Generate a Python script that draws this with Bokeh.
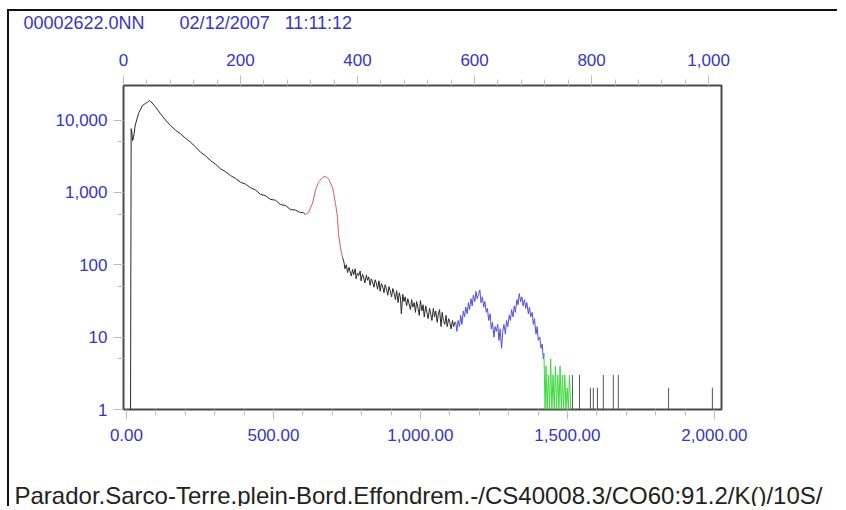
from bokeh.plotting import figure
from bokeh.models import (Range1d, LinearAxis, FixedTicker, NumeralTickFormatter, Title)
from bokeh.embed import file_html
from bokeh.resources import INLINE

# ---------------- data (energy keV, counts) ----------------
black_low_e = [14, 16, 18, 21, 24, 30, 41, 54, 65, 71, 78, 82, 100, 116, 133, 150, 167, 184,
               201, 218, 235, 252, 269, 286, 303, 320, 337, 354, 371, 388, 405, 422, 439,
               456, 473, 490, 507, 524, 541, 558, 575, 592, 600, 609]
black_low_c = [1, 7600, 7000, 5200, 5700, 8500, 12300, 15800, 17000, 17500, 18600, 18200, 15000,
               12200, 10000, 8400, 7200, 6450, 5600, 4930, 4250, 3590, 3200, 2760, 2450, 2120,
               1930, 1710, 1560, 1380, 1300, 1160, 1080, 940, 900, 800, 780, 680, 660, 580,
               570, 525, 530, 495]

red_e = [609, 619, 633, 643, 653, 667, 677, 687, 701, 711, 718, 721, 728, 735]
red_c = [495, 527, 705, 1070, 1370, 1620, 1660, 1550, 1170, 705, 450, 270, 173, 126]

black_mid_e = [735, 740, 743, 748, 752, 757, 760, 765, 769, 773, 778, 781, 786, 790, 795, 798,
               803, 807, 811, 816, 820, 824, 829, 833, 837, 842, 846, 851, 854, 859, 863, 867,
               872, 876, 880, 885, 889, 893, 898, 902, 906, 911, 915, 919, 924, 928, 932, 935,
               940, 944, 948, 953, 957, 961, 966, 970, 974, 979, 983, 987, 992, 996, 1000, 1005,
               1009, 1013, 1018, 1022, 1026, 1031, 1035, 1039, 1044, 1048, 1052, 1057, 1061,
               1065, 1070, 1074, 1078, 1083, 1087, 1091, 1096, 1100, 1104, 1109, 1113, 1117, 1120]
black_mid_c = [126, 108, 88, 100, 78, 92, 82, 70, 86, 73, 88, 64, 77, 71, 82, 60, 74, 66, 56,
               72, 61, 68, 52, 64, 58, 49, 62, 54, 46, 60, 43, 55, 49, 41, 53, 45, 38, 50, 42,
               36, 47, 40, 33, 44, 30, 41, 35, 21, 39, 31, 36, 27, 34, 29, 24, 33, 26, 30, 22,
               31, 25, 20, 32, 23, 28, 19, 27, 22, 18, 25, 21, 17, 25, 19, 23, 16, 21, 24, 14,
               22, 17, 15, 20, 14, 18, 16, 13, 17, 14, 16, 16]

blue_e = [1120, 1124, 1128, 1133, 1137, 1141, 1146, 1150, 1154, 1159, 1163, 1167, 1172, 1176,
          1180, 1185, 1189, 1193, 1198, 1202, 1206, 1211, 1215, 1219, 1224, 1228, 1232, 1237,
          1241, 1245, 1250, 1254, 1258, 1263, 1267, 1271, 1276, 1280, 1284, 1289, 1293, 1297,
          1302, 1306, 1310, 1315, 1319, 1323, 1328, 1332, 1336, 1341, 1345, 1349, 1354, 1358,
          1362, 1367, 1371, 1375, 1380, 1384, 1388, 1393, 1397, 1401, 1406, 1410, 1414, 1418,
          1420]
blue_c = [16, 12, 17, 14, 20, 15, 23, 19, 26, 21, 30, 24, 34, 27, 38, 31, 43, 34, 39, 45, 30,
          36, 26, 31, 22, 25, 17, 21, 13, 16, 10, 14, 12, 15, 9, 13, 7, 12, 15, 11, 17, 14,
          20, 17, 24, 19, 27, 22, 33, 28, 40, 31, 36, 27, 33, 25, 30, 21, 26, 19, 22, 15, 18,
          11, 14, 9, 10, 7, 8, 5, 6]

green_e = [1420, 1424, 1427, 1431, 1435, 1439, 1443, 1447, 1451, 1455, 1459, 1463, 1467, 1471,
           1475, 1479, 1483, 1487, 1491, 1495, 1499, 1503, 1507, 1511]
green_c = [6, 1, 4, 1, 3, 1, 5, 1, 3, 1, 4, 1, 3, 1, 4, 1, 3, 1, 3, 1, 2, 1, 3, 1]

tail_e = [1517, 1541, 1578, 1588, 1602, 1622, 1656, 1673, 1844, 1993]
tail_c = [3, 3, 2, 2, 2, 3, 3, 3, 2, 2]

bottom_ticks = [0, 500, 1000, 1500, 2000]
bottom_minor = [100, 200, 300, 400, 600, 700, 800, 900, 1100, 1200, 1300, 1400,
                1600, 1700, 1800, 1900]
top_ticks = [0, 200, 400, 600, 800, 1000]
top_minor = [40, 80, 120, 160, 240, 280, 320, 360, 440, 480, 520, 560, 640, 680, 720, 760,
             840, 880, 920, 960]
left_ticks = [1, 10, 100, 1000, 10000]
left_minor = [5, 50, 500, 5000]

SP = "\u00a0"
header_text = "00002622.0NN" + SP * 7 + "02/12/2007" + SP * 3 + "11:11:12"
footer_text = "Parador.Sarco-Terre.plein-Bord.Effondrem.-/CS40008.3/CO60:91.2/K()/10S/"

# ---------------- figure ----------------
FONT = "Liberation Sans"
BLUE = "#3535c8"
TICK = "#bdbdbd"

p = figure(width=830, height=497, output_backend="svg", toolbar_location=None,
           y_axis_type="log", x_range=Range1d(-10, 2024), y_range=Range1d(1, 30000),
           min_border_left=114, min_border_right=118, min_border_top=74, min_border_bottom=99)
p.styles = {"position": "relative", "left": "7px", "top": "9px",
            "border-left": "2px solid #111111", "border-top": "2px solid #111111",
            "vertical-align": "top"}
p.xgrid.visible = False
p.ygrid.visible = False
p.outline_line_color = "#4a4a4a"
p.outline_line_width = 2
p.background_fill_color = "white"
p.border_fill_color = "white"
p.title.visible = False

def style_axis(ax, ticks, minor, fmt):
    ax.ticker = FixedTicker(ticks=ticks, minor_ticks=minor)
    ax.formatter = NumeralTickFormatter(format=fmt)
    ax.axis_line_color = None
    ax.major_tick_line_color = TICK
    ax.minor_tick_line_color = TICK
    ax.major_tick_in = 0
    ax.minor_tick_in = 0
    ax.major_tick_out = 10
    ax.minor_tick_out = 6
    ax.major_label_text_color = BLUE
    ax.major_label_text_font = FONT
    ax.major_label_text_font_size = "17px"

bx = p.xaxis[0]
style_axis(bx, bottom_ticks, bottom_minor, "0,0.00")
bx.major_label_standoff = 9
ly = p.yaxis[0]
style_axis(ly, left_ticks, left_minor, "0,0")
ly.major_label_standoff = 6
p.extra_x_ranges = {"ch": Range1d(0, 1022)}
tx = LinearAxis(x_range_name="ch")
style_axis(tx, top_ticks, top_minor, "0,0")
tx.major_label_standoff = 10
p.add_layout(tx, "above")

# header (above, outermost) and footer (below, outermost), with spacers
p.add_layout(Title(text=SP, text_font_size="1px", standoff=13), "above")
p.add_layout(Title(text=header_text, align="left", vertical_align="top", offset=-100,
                   text_font=FONT, text_font_size="18px", text_font_style="normal",
                   text_color=BLUE, standoff=0), "above")
p.add_layout(Title(text=SP, text_font_size="1px", standoff=33), "below")
p.add_layout(Title(text=footer_text, align="left", vertical_align="bottom", offset=-109,
                   text_font=FONT, text_font_size="24px", text_font_style="normal",
                   text_color="#222222", standoff=0), "below")

# ---------------- spectrum ----------------
p.line(black_low_e, black_low_c, line_color="#2a2a2a", line_width=1)
p.line(red_e, red_c, line_color="#e05a5a", line_width=1)
p.line(black_mid_e, black_mid_c, line_color="#2a2a2a", line_width=1)
p.line(blue_e, blue_c, line_color="#4f4fe0", line_width=1)
p.line(green_e, green_c, line_color="#3ed83e", line_width=1)
p.segment(x0=tail_e, y0=[1] * len(tail_e), x1=tail_e, y1=tail_c,
          line_color="#555555", line_width=1)

open("out.html", "w").write(file_html(p, INLINE))
